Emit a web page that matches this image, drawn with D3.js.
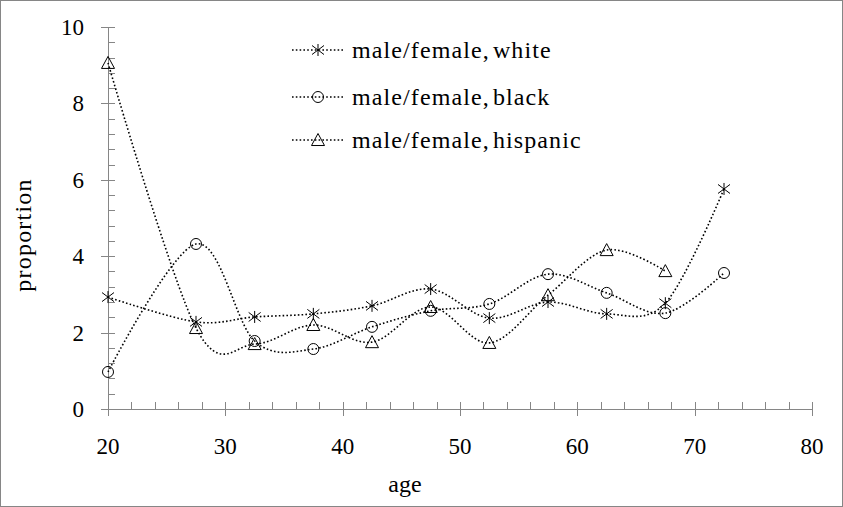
<!DOCTYPE html>
<html><head><meta charset="utf-8">
<script src="https://cdn.jsdelivr.net/npm/d3@7"></script>
<style>
body{margin:0;background:#fff;}
svg text{font-family:"Liberation Serif",serif;fill:#000;}
</style></head>
<body><svg id="c" width="843" height="507"></svg>
<script>
const ages = [20, 27.5, 32.5, 37.5, 42.5, 47.5, 52.5, 57.5, 62.5, 67.5, 72.5];
const white = [2.93, 2.28, 2.41, 2.49, 2.70, 3.14, 2.38, 2.80, 2.49, 2.77, 5.76];
const black = [0.97, 4.32, 1.78, 1.57, 2.15, 2.57, 2.75, 3.53, 3.04, 2.51, 3.56];
const hispanic = [9.06, 2.12, 1.70, 2.20, 1.75, 2.67, 1.73, 2.98, 4.16, 3.61];
const seriesNames = ["male/female, white", "male/female, black", "male/female, hispanic"];
const seriesMarkers = ["star", "circle", "triangle"];
const xTicks = [20, 30, 40, 50, 60, 70, 80];
const yTicks = [0, 2, 4, 6, 8, 10];

const svg = d3.select("#c");
const axisColor = "#868686";
svg.append("rect").attr("x",0.5).attr("y",0.5).attr("width",842).attr("height",506)
  .attr("fill","#fff").attr("stroke",axisColor).attr("stroke-width",1);

const x = d3.scaleLinear().domain([20,80]).range([108,812]);
const y = d3.scaleLinear().domain([0,10]).range([409,27]);

// Y axis
const gy = svg.append("g");
gy.append("line").attr("x1",108.5).attr("x2",108.5).attr("y1",y(10)).attr("y2",y(0)).attr("stroke",axisColor);
d3.range(0,10.001,0.4).forEach(v=>{
  const yy = Math.round(y(v))+0.5;
  const major = Math.abs(v/2-Math.round(v/2))<1e-6;
  gy.append("line").attr("x1",major?101:108.5).attr("x2",115).attr("y1",yy).attr("y2",yy).attr("stroke",axisColor);
});
gy.selectAll("text.yt").data(yTicks).join("text").attr("class","yt")
  .attr("x",84).attr("y",d=>y(d)).attr("dy","0.35em").attr("text-anchor","end")
  .attr("font-size",23).text(d=>d);

// X axis
const gx = svg.append("g");
gx.append("line").attr("x1",x(20)).attr("x2",x(80)).attr("y1",409.5).attr("y2",409.5).attr("stroke",axisColor);
d3.range(20,80.001,2).forEach(v=>{
  const xx = Math.round(x(v))+0.5;
  const major = v%10===0;
  gx.append("line").attr("x1",xx).attr("x2",xx).attr("y1",402).attr("y2",major?416:409.5).attr("stroke",axisColor);
});
gx.selectAll("text.xt").data(xTicks).join("text").attr("class","xt")
  .attr("x",d=>x(d)).attr("y",454).attr("text-anchor","middle")
  .attr("font-size",23).text(d=>d);

// axis titles
svg.append("text").attr("x",405).attr("y",492).attr("text-anchor","middle")
  .attr("font-size",24).text("age");
svg.append("text").attr("transform","translate(31,235) rotate(-90)").attr("text-anchor","middle")
  .attr("font-size",24).attr("letter-spacing",1.2).text("proportion");

// markers
function drawMarker(g, type, cx, cy){
  if(type==="star"){
    const s=6;
    g.append("path").attr("d",`M${cx-s},${cy-s*0.75}L${cx+s},${cy+s*0.75}M${cx-s},${cy+s*0.75}L${cx+s},${cy-s*0.75}M${cx},${cy-s}L${cx},${cy+s}`)
      .attr("stroke","#000").attr("stroke-width",1).attr("fill","none");
  } else if(type==="circle"){
    g.append("circle").attr("cx",cx).attr("cy",cy).attr("r",5.5).attr("stroke","#000").attr("stroke-width",1).attr("fill","none");
  } else {
    const s=6.5;
    g.append("path").attr("d",`M${cx},${cy-s}L${cx+s},${cy+s*0.85}L${cx-s},${cy+s*0.85}Z`)
      .attr("stroke","#000").attr("stroke-width",1).attr("fill","none");
  }
}

const allSeries = [white, black, hispanic];
const line = d3.line().x(d=>x(d[0])).y(d=>y(d[1])).curve(d3.curveCatmullRom.alpha(0));
allSeries.forEach((vals,i)=>{
  const pts = vals.map((v,j)=>[ages[j], v]);
  svg.append("path").datum(pts).attr("d",line).attr("fill","none")
    .attr("stroke","#000").attr("stroke-width",1.6).attr("stroke-dasharray","1.6,2.2");
  const g = svg.append("g");
  pts.forEach(p=>drawMarker(g, seriesMarkers[i], x(p[0]), y(p[1])));
});

// legend
const legY = [50, 97, 140];
seriesNames.forEach((name,i)=>{
  const yy = legY[i];
  svg.append("line").attr("x1",292).attr("x2",344).attr("y1",yy).attr("y2",yy)
    .attr("stroke","#000").attr("stroke-width",1.6).attr("stroke-dasharray","1.6,2.2");
  const g = svg.append("g");
  drawMarker(g, seriesMarkers[i], 318, yy);
  svg.append("text").attr("x",352).attr("y",yy).attr("dy","0.33em").attr("font-size",24)
    .attr("letter-spacing",1.1).attr("word-spacing",-4).text(name);
});
</script></body></html>
